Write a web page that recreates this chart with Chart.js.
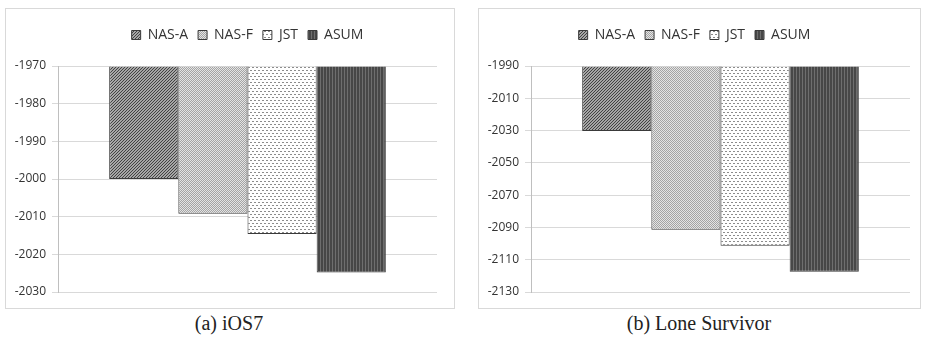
<!DOCTYPE html>
<html>
<head>
<meta charset="utf-8">
<script src="https://cdn.jsdelivr.net/npm/chart.js@4"></script>
<style>
  body { margin: 0; background: #fff; width: 925px; height: 339px; position: relative; overflow: hidden; }
  .panel { position: absolute; top: 8px; height: 301px; border: 1px solid #d9d9d9; box-sizing: border-box; }
  .panel canvas { display: block; }
  .cap { position: absolute; top: 312px; width: 300px; text-align: center; font: 20px "Liberation Serif", serif; color: #222; }
</style>
</head>
<body>
<div class="panel" style="left:5px;width:450px"><canvas id="chartA" width="448" height="299"></canvas></div>
<div class="panel" style="left:478px;width:443px"><canvas id="chartB" width="441" height="299"></canvas></div>
<div class="cap" style="left:79px">(a) iOS7</div>
<div class="cap" style="left:549px">(b) Lone Survivor</div>
<script>
// data
const methods = ['NAS-A', 'NAS-F', 'JST', 'ASUM'];
const iosValues = [-2000, -2009.2, -2014.6, -2024.8];
const loneValues = [-2030.2, -2091.4, -2101.4, -2117.4];
const iosTicks = [-1970, -1980, -1990, -2000, -2010, -2020, -2030];
const loneTicks = [-1990, -2010, -2030, -2050, -2070, -2090, -2110, -2130];

// patterns like the excel fills
function pattern(w, h, draw) {
  const c = document.createElement('canvas');
  c.width = w; c.height = h;
  const g = c.getContext('2d');
  draw(g);
  return g.createPattern(c, 'repeat');
}
const fills = [
  pattern(3, 3, g => {
    g.fillStyle = '#a6a6a6'; g.fillRect(0, 0, 3, 3);
    g.fillStyle = '#424242';
    for (let i = 0; i < 3; i++) g.fillRect(i, 2 - i, 1, 1);
  }),
  pattern(2, 2, g => {
    g.fillStyle = '#e4e4e4'; g.fillRect(0, 0, 2, 2);
    g.fillStyle = '#a4a4a4'; g.fillRect(0, 0, 1, 1); g.fillRect(1, 1, 1, 1);
  }),
  pattern(8, 6, g => {
    g.fillStyle = '#ffffff'; g.fillRect(0, 0, 8, 6);
    g.fillStyle = '#8c8c8c';
    g.fillRect(0, 1, 2, 1); g.fillRect(4, 1, 2, 1);
    g.fillRect(2, 4, 2, 1); g.fillRect(6, 4, 2, 1);
  }),
  pattern(3, 1, g => {
    g.fillStyle = '#474747'; g.fillRect(0, 0, 3, 1);
    g.fillStyle = '#6e6e6e'; g.fillRect(2, 0, 1, 1);
  })
];

// push the plot down under the legend like excel does
const legendGap = {
  id: 'legendGap',
  beforeInit(chart) {
    const fit = chart.legend.fit;
    chart.legend.fit = function () { fit.call(this); this.height += 14; };
  }
};

const tickFont = { family: '"Open Sans", sans-serif', size: 12 };

function makeChart(id, values, ticks, rightPad, legendFull) {
  const yMax = ticks[0], yMin = ticks[ticks.length - 1];
  return new Chart(document.getElementById(id), {
    type: 'bar',
    data: {
      labels: [''],
      datasets: methods.map((m, i) => ({
        label: m,
        data: [values[i]],
        base: yMax,
        backgroundColor: fills[i],
        borderColor: '#3a3a3a',
        borderWidth: 1,
        barPercentage: 1,
        categoryPercentage: 0.73
      }))
    },
    plugins: [legendGap],
    options: {
      responsive: false,
      animation: false,
      layout: { padding: { top: 9, bottom: 16, right: rightPad, left: 0 } },
      plugins: {
        tooltip: { enabled: false },
        legend: {
          position: 'top',
          fullSize: legendFull,
          labels: {
            boxWidth: 9, boxHeight: 9, padding: 10, color: '#333',
            font: { family: '"Open Sans", sans-serif', size: 14 }
          }
        }
      },
      scales: {
        x: {
          ticks: { display: false },
          grid: { display: false, drawTicks: false },
          border: { display: false }
        },
        y: {
          min: yMin, max: yMax,
          afterBuildTicks: s => { s.ticks = ticks.map(v => ({ value: v })); },
          afterFit: s => { s.width = 52; },
          ticks: { color: '#333', font: tickFont, padding: 6, callback: v => String(v) },
          grid: { color: '#d9d9d9', tickLength: 6 },
          border: { color: '#bfbfbf' }
        }
      }
    }
  });
}

makeChart('chartA', iosValues, iosTicks, 17, false);
makeChart('chartB', loneValues, loneTicks, 10, true);
</script>
</body>
</html>
